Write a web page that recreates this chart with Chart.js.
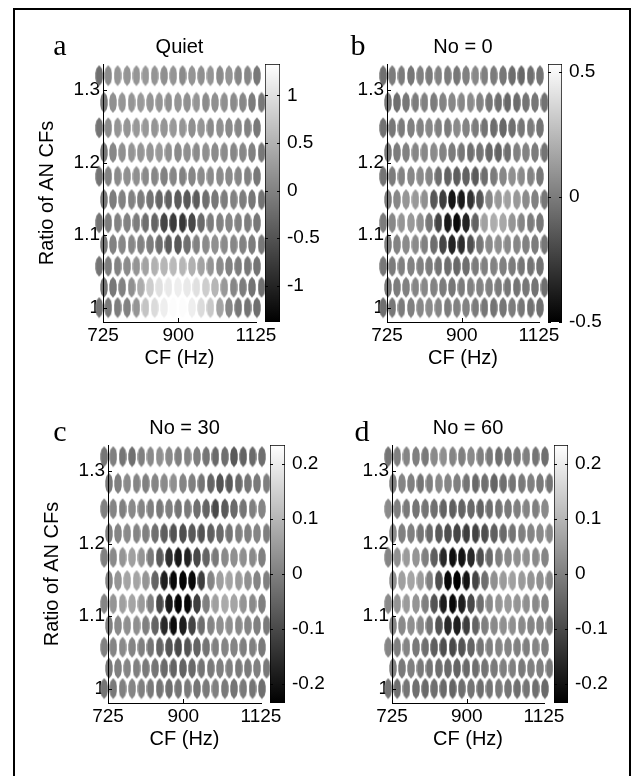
<!DOCTYPE html>
<html>
<head>
<meta charset="utf-8">
<script src="https://cdn.jsdelivr.net/npm/chart.js@4.4.1/dist/chart.umd.min.js"></script>
<style>
    body { margin: 0; width: 631px; height: 776px; background: #fff; position: relative; overflow: hidden; }
    #frame { position: absolute; left: 13px; top: 8px; width: 614px; height: 820px; border: 2px solid #000; border-bottom: none; }
    canvas { position: absolute; }
</style>
</head>
<body>
<div id="frame"></div>

<script>
// tick labels
const cfTicks = [725, 900, 1125]
const ratioTicks = [1, 1.1, 1.2, 1.3]

// rows, top to bottom (ratio of the two AN CFs)
const ratios = [1.320, 1.283, 1.248, 1.214, 1.181, 1.149, 1.117, 1.087, 1.057, 1.028, 1.000]
// CF of each column (Hz): even rows (1, 1.057, ...) and odd rows sit half a step apart
const cfEven = [717, 736, 756, 777, 798, 819, 841, 864, 887, 911, 936, 961, 987, 1014, 1041, 1069, 1098, 1128]
const cfOdd = [727, 746, 766, 787, 808, 830, 852, 875, 899, 923, 948, 974, 1000, 1027, 1055, 1083, 1112, 1143]

// a : Quiet
const quietRange = [-1.38, 1.33]
const quietTicks = [-1, -0.5, 0, 0.5, 1]
const quietRows = [
    [-0.2, 0.1, 0.2, 0.2, 0.2, 0.25, 0.2, 0.15, 0.2, 0.1, 0.2, 0.15, 0.2, 0.1, 0.2, 0.05, 0.05, -0.1],
    [-0.1, 0.15, 0.2, 0.2, 0.25, 0.2, 0.2, 0.15, 0.2, 0.15, 0.2, 0.1, 0.15, 0.15, 0.1, 0.05, -0.05, -0.1],
    [-0.15, 0.1, 0.2, 0.2, 0.25, 0.25, 0.2, 0.2, 0.25, 0.2, 0.15, 0.2, 0.1, 0.15, 0.1, 0.05, 0.0, -0.1],
    [-0.1, 0.05, 0.15, 0.2, 0.2, 0.2, 0.25, 0.15, 0.1, 0.15, 0.1, 0.15, 0.1, 0.1, 0.05, 0.05, 0.0, -0.1],
    [-0.15, 0.0, 0.1, 0.15, 0.15, 0.1, 0.05, 0.0, 0.05, 0.0, 0.05, 0.1, 0.1, 0.1, 0.1, 0.05, 0.0, -0.1],
    [-0.1, -0.05, 0.0, 0.0, -0.05, -0.15, -0.3, -0.35, -0.4, -0.45, -0.4, -0.2, -0.1, -0.05, 0.0, -0.05, -0.1, -0.15],
    [-0.15, -0.05, 0.0, 0.0, -0.05, -0.2, -0.3, -0.65, -0.75, -0.8, -0.6, -0.25, -0.05, 0.0, 0.05, 0.0, -0.05, -0.1],
    [-0.1, 0.0, 0.05, 0.05, 0.0, -0.05, -0.2, -0.4, -0.45, -0.2, 0.0, 0.1, 0.15, 0.1, 0.05, 0.0, -0.05, -0.1],
    [-0.15, -0.05, 0.0, 0.1, 0.2, 0.35, 0.5, 0.55, 0.6, 0.55, 0.5, 0.35, 0.2, 0.1, 0.0, -0.05, -0.1, -0.15],
    [-0.15, -0.1, 0.0, 0.15, 0.45, 0.8, 1.0, 1.1, 1.15, 1.1, 1.0, 0.8, 0.55, 0.25, 0.05, -0.05, -0.15, -0.2],
    [-0.15, -0.1, -0.05, 0.0, 0.2, 0.7, 0.95, 1.15, 1.3, 1.3, 1.15, 0.95, 0.75, 0.35, 0.05, -0.1, -0.15, -0.2],
]

// b : No = 0
const no0Range = [-0.5, 0.53]
const no0Ticks = [-0.5, 0, 0.5]
const no0Rows = [
    [-0.05, 0.0, 0.0, -0.02, 0.02, 0.0, 0.03, 0.0, -0.02, 0.02, 0.05, 0.02, 0.0, -0.02, -0.06, -0.08, -0.05, -0.03],
    [-0.03, -0.05, -0.02, 0.0, 0.02, 0.0, 0.03, 0.05, 0.05, 0.06, 0.03, -0.02, -0.05, -0.08, -0.06, -0.03, -0.02, -0.04],
    [-0.04, -0.02, 0.0, 0.02, 0.03, 0.05, 0.02, 0.0, 0.06, 0.03, 0.0, -0.03, -0.06, -0.08, -0.05, -0.02, 0.0, -0.03],
    [-0.02, 0.0, 0.02, 0.04, 0.05, 0.06, 0.03, 0.0, -0.02, -0.05, -0.03, -0.08, -0.1, -0.05, 0.02, 0.03, 0.0, -0.03],
    [-0.03, 0.0, 0.03, 0.05, 0.06, 0.04, -0.05, -0.1, -0.12, -0.1, -0.13, -0.05, 0.0, 0.05, 0.08, 0.06, 0.03, -0.02],
    [0.0, 0.05, 0.1, 0.12, 0.08, -0.15, -0.25, -0.42, -0.4, -0.3, -0.15, 0.05, 0.12, 0.15, 0.12, 0.06, 0.02, -0.02],
    [0.0, 0.05, 0.1, 0.12, 0.08, -0.02, -0.22, -0.4, -0.46, -0.36, -0.1, 0.15, 0.2, 0.18, 0.1, 0.04, 0.0, -0.02],
    [0.0, 0.03, 0.06, 0.06, 0.02, -0.06, -0.22, -0.36, -0.32, -0.18, -0.02, 0.06, 0.08, 0.06, 0.04, 0.02, 0.0, -0.02],
    [-0.02, 0.0, 0.02, 0.03, 0.02, 0.0, -0.03, -0.06, -0.08, -0.05, 0.0, 0.02, 0.03, 0.02, 0.0, -0.02, -0.03, -0.04],
    [-0.02, 0.0, 0.02, 0.04, 0.05, 0.03, 0.0, -0.02, 0.0, 0.02, 0.03, 0.02, 0.0, -0.02, -0.03, -0.02, -0.03, -0.05],
    [-0.05, -0.02, 0.0, 0.02, 0.05, 0.06, 0.04, 0.0, 0.02, 0.03, 0.0, -0.02, -0.03, -0.02, 0.0, -0.02, -0.04, -0.05],
]

// c : No = 30
const no30Range = [-0.235, 0.235]
const no30Ticks = [-0.2, -0.1, 0, 0.1, 0.2]
const no30Rows = [
    [-0.02, 0.0, -0.02, -0.03, 0.0, 0.02, 0.03, 0.02, 0.0, 0.01, 0.0, -0.02, -0.04, -0.03, -0.07, -0.05, -0.04, -0.03],
    [-0.01, 0.0, 0.02, 0.01, 0.0, 0.01, 0.02, 0.03, 0.01, 0.0, -0.02, -0.05, -0.08, -0.07, -0.04, -0.02, -0.01, 0.0],
    [0.0, 0.01, 0.0, 0.02, 0.01, 0.0, -0.01, 0.0, -0.02, -0.01, -0.03, -0.05, -0.1, -0.07, -0.04, -0.02, 0.0, 0.01],
    [0.0, 0.01, 0.02, 0.01, 0.0, -0.03, -0.06, -0.08, -0.09, -0.07, -0.08, -0.06, -0.04, -0.02, 0.0, 0.0, 0.01, 0.0],
    [0.0, 0.02, 0.04, 0.06, 0.04, -0.01, -0.07, -0.15, -0.19, -0.17, -0.1, -0.05, -0.01, 0.02, 0.03, 0.03, 0.02, 0.0],
    [0.01, 0.04, 0.07, 0.07, 0.04, -0.05, -0.18, -0.22, -0.23, -0.22, -0.12, 0.01, 0.06, 0.07, 0.05, 0.03, 0.01, 0.0],
    [0.01, 0.04, 0.06, 0.07, 0.05, 0.0, -0.1, -0.19, -0.23, -0.22, -0.12, 0.0, 0.06, 0.08, 0.07, 0.04, 0.02, 0.0],
    [0.0, 0.02, 0.03, 0.03, 0.0, -0.05, -0.16, -0.21, -0.18, -0.11, -0.03, 0.01, 0.03, 0.03, 0.02, 0.01, 0.0, -0.01],
    [0.0, 0.01, 0.02, 0.01, 0.0, -0.02, -0.05, -0.08, -0.1, -0.08, -0.05, -0.02, 0.0, 0.01, 0.01, 0.0, 0.0, -0.01],
    [-0.01, 0.0, 0.01, 0.0, -0.01, -0.02, -0.04, -0.05, -0.05, -0.04, -0.02, -0.01, 0.0, 0.0, -0.01, -0.01, 0.0, -0.01],
    [-0.02, -0.01, 0.0, 0.01, 0.0, -0.01, -0.02, -0.03, -0.02, -0.01, -0.02, -0.01, 0.0, -0.01, -0.02, -0.01, -0.02, -0.03],
]

// d : No = 60
const no60Range = [-0.235, 0.235]
const no60Ticks = [-0.2, -0.1, 0, 0.1, 0.2]
const no60Rows = [
    [-0.02, 0.0, 0.01, 0.0, -0.01, 0.02, 0.03, 0.01, 0.0, 0.02, 0.0, -0.01, -0.03, -0.02, -0.01, 0.0, -0.02, -0.03],
    [0.0, 0.01, 0.0, -0.02, 0.0, 0.02, 0.01, 0.0, -0.02, -0.04, -0.03, -0.05, -0.03, -0.02, -0.01, 0.0, -0.01, -0.02],
    [0.02, 0.0, -0.01, -0.02, -0.02, -0.03, -0.05, -0.06, -0.05, -0.04, -0.05, -0.03, -0.02, -0.01, 0.0, 0.01, 0.0, 0.02],
    [0.02, 0.0, 0.0, -0.02, -0.04, -0.07, -0.09, -0.11, -0.12, -0.11, -0.09, -0.06, -0.04, -0.02, 0.0, 0.01, 0.02, 0.02],
    [0.01, 0.03, 0.05, 0.04, 0.0, -0.06, -0.16, -0.21, -0.2, -0.16, -0.09, -0.04, 0.0, 0.02, 0.03, 0.03, 0.02, 0.01],
    [0.03, 0.06, 0.07, 0.05, 0.0, -0.09, -0.22, -0.24, -0.2, -0.11, -0.03, 0.03, 0.05, 0.06, 0.05, 0.04, 0.03, 0.02],
    [0.02, 0.04, 0.05, 0.04, 0.0, -0.08, -0.18, -0.22, -0.18, -0.1, -0.03, 0.02, 0.04, 0.05, 0.04, 0.03, 0.02, 0.01],
    [0.01, 0.02, 0.03, 0.02, -0.02, -0.08, -0.16, -0.18, -0.12, -0.05, 0.0, 0.02, 0.03, 0.03, 0.02, 0.01, 0.01, 0.0],
    [0.01, 0.0, 0.01, -0.01, -0.03, -0.06, -0.09, -0.1, -0.08, -0.05, -0.02, 0.0, 0.01, 0.01, 0.0, 0.0, 0.01, 0.0],
    [0.0, -0.01, 0.0, -0.01, -0.02, -0.03, -0.04, -0.05, -0.04, -0.03, -0.02, -0.01, 0.0, 0.0, -0.01, 0.0, 0.0, -0.01],
    [-0.02, -0.03, -0.02, -0.03, -0.04, -0.03, -0.04, -0.05, -0.03, -0.02, -0.03, -0.02, -0.01, -0.02, -0.03, -0.02, -0.03, -0.04],
]

const SANS = "'Liberation Sans', Arial, sans-serif"
const SERIF = "'Liberation Serif', 'Times New Roman', serif"
Chart.defaults.font.family = SANS
Chart.defaults.color = "#000"

// grey ellipse marker, one canvas per grey level
const markerCache = {}
function marker(g) {
    if (markerCache[g]) return markerCache[g]
    const cv = document.createElement("canvas")
    cv.width = 8
    cv.height = 22
    const c = cv.getContext("2d")
    const w = 3.7, h = 10.5
    const pts = [[0, -h], [w * 0.75, -h * 0.66], [w, -h * 0.25], [w, h * 0.25], [w * 0.75, h * 0.66],
        [0, h], [-w * 0.75, h * 0.66], [-w, h * 0.25], [-w, -h * 0.25], [-w * 0.75, -h * 0.66]]
    c.translate(4, 11)
    c.beginPath()
    pts.forEach(([x, y], i) => (i ? c.lineTo(x, y) : c.moveTo(x, y)))
    c.closePath()
    c.fillStyle = `rgb(${g},${g},${g})`
    c.fill()
    markerCache[g] = cv
    return cv
}

// axis lines, inward ticks, panel letter and title
const panelDecor = {
    id: "panelDecor",
    afterDraw(chart, args, o) {
        const c = chart.ctx, a = chart.chartArea
        const xs = chart.scales.x, ys = chart.scales.y
        const top = Math.round(a.top), bot = Math.round(a.bottom)
        const left = Math.round(a.left), right = Math.round(a.right)
        c.save()
        c.fillStyle = "#000"
        c.fillRect(left, top, 1, bot - top + 1)
        c.fillRect(left, bot, right - left + 1, 1)
        cfTicks.slice(1, -1).forEach(v => {
            c.fillRect(Math.round(xs.getPixelForValue(v)), bot - 4, 1, 4)
        })
        ratioTicks.forEach(v => {
            c.fillRect(left, Math.round(ys.getPixelForValue(v)), 4, 1)
        })
        c.textAlign = "center"
        c.textBaseline = "alphabetic"
        c.font = `30px ${SERIF}`
        c.fillText(o.letter, o.letterX, o.letterY)
        c.font = `20px ${SANS}`
        c.fillText(o.title, (a.left + a.right) / 2, a.top - 11)
        c.restore()
    },
}

const cbTicks = {
    id: "cbTicks",
    afterDatasetsDraw(chart) {
        const c = chart.ctx, a = chart.chartArea, ys = chart.scales.y
        c.save()
        c.fillStyle = "#000"
        ys.ticks.forEach(t => {
            const y = Math.round(ys.getPixelForValue(t.value))
            c.fillRect(Math.round(a.left), y, 3, 1)
            c.fillRect(Math.round(a.right) - 3, y, 3, 1)
        })
        c.restore()
    },
}

function addCanvas(left, top, w, h) {
    const cv = document.createElement("canvas")
    cv.width = w
    cv.height = h
    cv.style.left = left + "px"
    cv.style.top = top + "px"
    document.body.appendChild(cv)
    return cv
}

function makePanel(p) {
    const { L, R, T, B } = p.box
    const cLeft = L - 83, cTop = T - 44
    const cv = addCanvas(cLeft, cTop, R + 30 - cLeft, B + 52 - cTop)
    const [lo, hi] = p.range

    const points = []
    p.rows.forEach((row, i) => {
        const cfs = i % 2 === 0 ? cfEven : cfOdd
        row.forEach((v, j) => points.push({ x: cfs[j], y: ratios[i], v }))
    })
    const grey = v => Math.max(0, Math.min(255, Math.round(255 * (v - lo) / (hi - lo))))

    new Chart(cv, {
        type: "scatter",
        data: {
            datasets: [{
                data: points,
                clip: false,
                pointRadius: 9,
                borderWidth: 0,
                pointStyle: ctx => marker(grey(ctx.raw.v)),
            }],
        },
        options: {
            responsive: false,
            animation: false,
            devicePixelRatio: 1,
            events: [],
            layout: { padding: { left: 0, top: 44, right: 30, bottom: 0 } },
            plugins: {
                legend: { display: false },
                tooltip: { enabled: false },
                panelDecor: { letter: p.letter, letterX: p.letterPos[0] - cLeft, letterY: p.letterPos[1] - cTop, title: p.title },
            },
            scales: {
                x: {
                    type: "logarithmic",
                    min: 725,
                    max: 1125,
                    afterBuildTicks: s => { s.ticks = cfTicks.map(v => ({ value: v })) },
                    afterFit: s => { s.height = 52; s.paddingLeft = 0; s.paddingRight = 0 },
                    grid: { display: true, drawOnChartArea: false, drawTicks: false },
                    border: { display: false },
                    ticks: { font: { size: 19 }, padding: 2, maxRotation: 0, autoSkip: false, callback: v => String(v) },
                    title: { display: true, text: "CF (Hz)", font: { size: 20 }, padding: { top: 0, bottom: 4 } },
                },
                y: {
                    min: 0.98,
                    max: 1.336,
                    afterBuildTicks: s => { s.ticks = ratioTicks.map(v => ({ value: v })) },
                    afterFit: s => { s.width = 83; s.paddingTop = 0; s.paddingBottom = 0 },
                    grid: { display: true, drawOnChartArea: false, drawTicks: false },
                    border: { display: false },
                    ticks: { font: { size: 19 }, padding: 3, callback: v => String(v) },
                    title: { display: p.yTitle, text: "Ratio of AN CFs", font: { size: 20 }, padding: { top: 15, bottom: 0 } },
                },
            },
        },
        plugins: [panelDecor],
    })

    // colour bar
    const cb = p.cbar
    const bLeft = cb[0] - 2, bTop = T - 12
    const cv2 = addCanvas(bLeft, bTop, cb[1] - bLeft + 50, B - bTop + 14)
    new Chart(cv2, {
        type: "bar",
        data: {
            labels: [""],
            datasets: [{
                data: [[lo, hi]],
                barPercentage: 1,
                categoryPercentage: 1,
                borderColor: "#000",
                borderWidth: 1,
                borderSkipped: false,
                backgroundColor: ctx => {
                    const a = ctx.chart.chartArea
                    if (!a) return "#888"
                    const g = ctx.chart.ctx.createLinearGradient(0, a.bottom, 0, a.top)
                    g.addColorStop(0, "#000")
                    g.addColorStop(1, "#fff")
                    return g
                },
            }],
        },
        options: {
            responsive: false,
            animation: false,
            devicePixelRatio: 1,
            events: [],
            layout: { padding: { left: 2, top: 12, right: 0, bottom: 14 } },
            plugins: { legend: { display: false }, tooltip: { enabled: false } },
            scales: {
                x: { display: false },
                y: {
                    position: "right",
                    min: lo,
                    max: hi,
                    afterBuildTicks: s => { s.ticks = p.ticks.map(v => ({ value: v })) },
                    afterFit: s => { s.width = 50; s.paddingTop = 0; s.paddingBottom = 0 },
                    grid: { display: false, drawTicks: false },
                    border: { display: false },
                    ticks: { font: { size: 19 }, padding: 7, callback: v => String(v) },
                },
            },
        },
        plugins: [cbTicks],
    })
}

makePanel({ box: { L: 103, R: 256, T: 64, B: 322 }, cbar: [265, 280], rows: quietRows, range: quietRange, ticks: quietTicks,
    letter: "a", letterPos: [60, 55], title: "Quiet", yTitle: true })
makePanel({ box: { L: 387, R: 539, T: 64, B: 322 }, cbar: [548, 562], rows: no0Rows, range: no0Range, ticks: no0Ticks,
    letter: "b", letterPos: [358, 55], title: "No = 0", yTitle: false })
makePanel({ box: { L: 108, R: 261, T: 445, B: 703 }, cbar: [270, 285], rows: no30Rows, range: no30Range, ticks: no30Ticks,
    letter: "c", letterPos: [60, 441], title: "No = 30", yTitle: true })
makePanel({ box: { L: 392, R: 544, T: 445, B: 703 }, cbar: [554, 568], rows: no60Rows, range: no60Range, ticks: no60Ticks,
    letter: "d", letterPos: [362, 441], title: "No = 60", yTitle: false })
</script>
</body>
</html>
